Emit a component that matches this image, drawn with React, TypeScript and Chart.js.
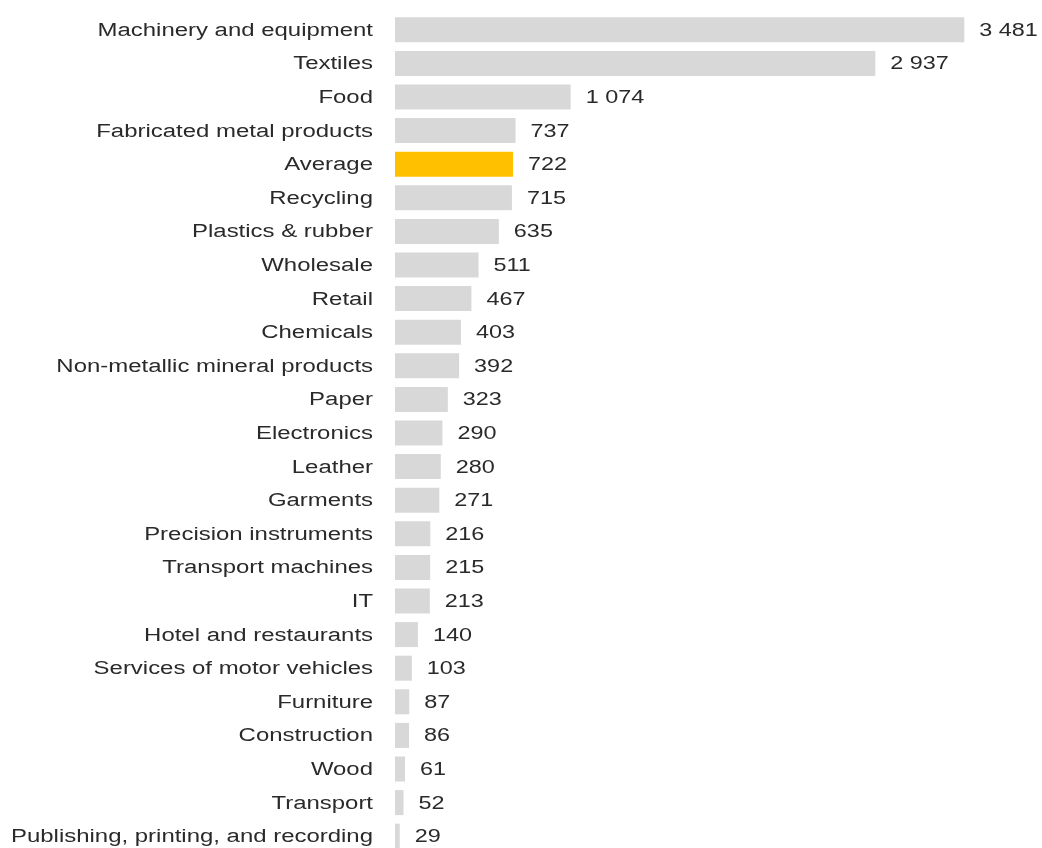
import React, { useEffect, useRef } from "react";
import { Chart, registerables } from "chart.js";

Chart.register(...registerables);

const categories: string[] = [
  "Machinery and equipment",
  "Textiles",
  "Food",
  "Fabricated metal products",
  "Average",
  "Recycling",
  "Plastics & rubber",
  "Wholesale",
  "Retail",
  "Chemicals",
  "Non-metallic mineral products",
  "Paper",
  "Electronics",
  "Leather",
  "Garments",
  "Precision instruments",
  "Transport machines",
  "IT",
  "Hotel and restaurants",
  "Services of motor vehicles",
  "Furniture",
  "Construction",
  "Wood",
  "Transport",
  "Publishing, printing, and recording",
];

const values: number[] = [
  3481, 2937, 1074, 737, 722, 715, 635, 511, 467, 403, 392, 323, 290, 280, 271,
  216, 215, 213, 140, 103, 87, 86, 61, 52, 29,
];

const highlightCategory = "Average";

const GRAY = "#d8d8d8";
const GOLD = "#ffc000";
const TEXT = "#2a2a2a";
const FONT = '18px "Liberation Sans", Arial, sans-serif';
const LABEL_STRETCH = 1.33;
const VALUE_STRETCH = 1.3;

function fmt(v: number): string {
  return String(v).replace(/\B(?=(\d{3})+(?!\d))/g, " ");
}

const labelPlugin = {
  id: "stretchedLabels",
  afterDatasetsDraw(chart: any) {
    const ctx = chart.ctx as CanvasRenderingContext2D;
    const meta = chart.getDatasetMeta(0);
    const labelRight = chart.chartArea.left - 22;
    ctx.save();
    ctx.font = FONT;
    ctx.fillStyle = TEXT;
    ctx.textBaseline = "middle";
    meta.data.forEach((el: any, i: number) => {
      const y = el.y + 1;
      ctx.save();
      ctx.translate(labelRight, y);
      ctx.scale(LABEL_STRETCH, 1);
      ctx.textAlign = "right";
      ctx.fillText(categories[i], 0, 0);
      ctx.restore();

      ctx.save();
      ctx.translate(el.x + 15, y);
      ctx.scale(VALUE_STRETCH, 1);
      ctx.textAlign = "left";
      ctx.fillText(fmt(values[i]), 0, 0);
      ctx.restore();
    });
    ctx.restore();
  },
};

export default function App() {
  const ref = useRef<HTMLCanvasElement | null>(null);

  useEffect(() => {
    if (!ref.current) return;
    const chart = new Chart(ref.current, {
      type: "bar",
      data: {
        labels: categories,
        datasets: [
          {
            data: values,
            backgroundColor: categories.map((c) =>
              c === highlightCategory ? GOLD : GRAY
            ),
            borderWidth: 0,
            barPercentage: 0.745,
            categoryPercentage: 1,
          },
        ],
      },
      options: {
        indexAxis: "y",
        animation: false,
        responsive: false,
        maintainAspectRatio: false,
        layout: { padding: { left: 395, right: 1, top: 13, bottom: 0 } },
        plugins: {
          legend: { display: false },
          tooltip: { enabled: false },
        },
        scales: {
          x: { display: false, min: 0, max: 3950 },
          y: { display: false },
        },
      },
      plugins: [labelPlugin],
    });
    return () => chart.destroy();
  }, []);

  return (
    <div
      style={{
        position: "fixed",
        left: 0,
        top: 0,
        width: 1042,
        height: 848,
        overflow: "hidden",
        background: "#ffffff",
      }}
    >
      <canvas ref={ref} width={1042} height={853} style={{ display: "block" }} />
    </div>
  );
}
